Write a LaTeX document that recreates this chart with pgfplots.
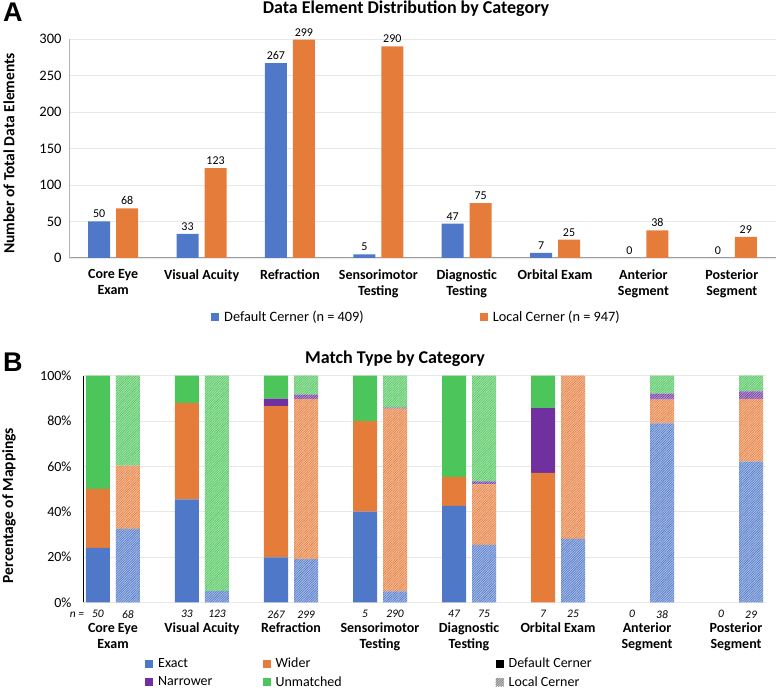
\documentclass[border=0pt]{standalone}
\usepackage{fontspec}
\setmainfont{Carlito}
\newfontfamily\labfont{Liberation Sans}
\usepackage{pgfplots}
\pgfplotsset{compat=1.18}
\usetikzlibrary{patterns.meta}
\definecolor{cblue}{HTML}{4F78C8}
\definecolor{corange}{HTML}{E67C3A}
\definecolor{cpurple}{HTML}{7030A0}
\definecolor{cgreen}{HTML}{4CC65A}
\tikzset{
  hatch/.style={fill=#1!50!white, postaction={pattern={Lines[angle=45,distance=1.7pt,line width=0.55pt]}, pattern color=#1}},
  nlab/.style={font=\itshape\fontsize{11.5}{13}\selectfont, yshift=-12pt, xshift=#1},
}
\begin{document}
\begin{tikzpicture}
\useasboundingbox (0pt,0pt) rectangle (778pt,690pt);
% ---------------- Panel A ----------------
\node[anchor=north west, inner sep=0, font=\labfont\bfseries\fontsize{27}{30}\selectfont] at (3pt,687pt) {A};
\node[anchor=base, font=\bfseries\fontsize{18}{21}\selectfont] at (406pt,676.5pt) {Data Element Distribution by Category};
\node[rotate=90, font=\bfseries\fontsize{15.5}{18}\selectfont] at (9pt,536.5pt) {Number of Total Data Elements};
\begin{axis}[
  at={(69pt,432pt)}, anchor=south west, scale only axis,
  width=707pt, height=219pt,
  ybar=6pt, bar width=22pt,
  xmin=-0.5, xmax=7.5, ymin=0, ymax=300,
  xtick={0,...,7},
  xticklabels={{Core Eye\\Exam},{Visual Acuity},{Refraction},{Sensorimotor\\Testing},{Diagnostic\\Testing},{Orbital Exam},{Anterior\\Segment},{Posterior\\Segment}},
  xticklabel style={font=\bfseries\fontsize{14}{16}\selectfont, align=center, anchor=north, yshift=-8pt},
  ytick={0,50,...,300},
  yticklabel style={font=\fontsize{14.5}{16}\selectfont, xshift=-4pt},
  /pgf/number format/assume math mode=true,
  major tick length=0pt,
  axis lines*=left,
  x axis line style={draw=gray!75, line width=1pt},
  y axis line style={draw=gray!60, line width=0.8pt},
  ymajorgrids, grid style={gray!18, line width=0.6pt},
  nodes near coords,
  every node near coord/.append style={font=\fontsize{12}{14}\selectfont, black},
  legend columns=2, legend cell align=left,
  legend image code/.code={\fill[#1,draw=none] (0pt,-4pt) rectangle (8pt,4pt); \path[draw=none,fill=none] (0pt,0pt) -- (11pt,0pt);},
  legend style={at={(0.4915,-0.2694)}, anchor=center, draw=none, font=\fontsize{14.3}{16}\selectfont,
     /tikz/column 2/.style={column sep=114pt}},
]
\addplot[fill=cblue, draw=none] coordinates {(0,50) (1,33) (2,267) (3,5) (4,47) (5,7) (6,0) (7,0)};
\addlegendentry{Default Cerner (n = 409)}
\addplot[fill=corange, draw=none] coordinates {(0,68) (1,123) (2,299) (3,290) (4,75) (5,25) (6,38) (7,29)};
\addlegendentry{Local Cerner (n = 947)}
\end{axis}
% ---------------- Panel B ----------------
\node[anchor=north west, inner sep=0, font=\labfont\bfseries\fontsize{27}{30}\selectfont] at (3pt,337pt) {B};
\node[anchor=base, font=\bfseries\fontsize{18}{21}\selectfont] at (395pt,326pt) {Match Type by Category};
\node[rotate=90, font=\bfseries\fontsize{15.5}{18}\selectfont] at (9pt,184.5pt) {Percentage of Mappings};
\begin{axis}[
  at={(83pt,87.7pt)}, anchor=south west, scale only axis,
  width=683pt, height=226.6pt,
  ybar stacked, bar width=24pt, bar shift=-15pt,
  xmin=-0.337, xmax=7.337, ymin=0, ymax=100,
  xtick={0,...,7},
  xticklabels={{Core Eye\\Exam},{Visual Acuity},{Refraction},{Sensorimotor\\Testing},{Diagnostic\\Testing},{Orbital Exam},{Anterior\\Segment},{Posterior\\Segment}},
  xticklabel style={font=\bfseries\fontsize{14}{16}\selectfont, align=center, anchor=north, yshift=-17pt},
  ytick={0,20,...,100},
  yticklabel={\pgfmathprintnumber{\tick}\%},
  yticklabel style={font=\fontsize{14}{16}\selectfont, xshift=-8pt},
  /pgf/number format/assume math mode=true,
  major tick length=0pt,
  axis lines*=left,
  x axis line style={draw=gray!18, line width=0.6pt},
  y axis line style={draw=black, line width=0.7pt},
  ymajorgrids, grid style={gray!18, line width=0.6pt},
  legend columns=3, legend cell align=left,
  legend image code/.code={\fill[#1,draw=none] (0pt,-4pt) rectangle (8pt,4pt); \path[draw=none,fill=none] (0pt,0pt) -- (11pt,0pt);},
  legend style={at={(0.4195,-0.312)}, anchor=center, draw=none, font=\fontsize{14}{16}\selectfont,
     /tikz/column 2/.style={column sep=48pt}, /tikz/column 4/.style={column sep=152pt}, /tikz/row sep=3pt},
  clip=false,
]
\addlegendimage{fill=cblue,draw=none}\addlegendentry{Exact}
\addlegendimage{fill=corange,draw=none}\addlegendentry{Wider}
\addlegendimage{fill=black,draw=none}\addlegendentry{Default Cerner}
\addlegendimage{fill=cpurple,draw=none}\addlegendentry{Narrower}
\addlegendimage{fill=cgreen,draw=none}\addlegendentry{Unmatched}
\addlegendimage{hatch=gray,draw=none}\addlegendentry{Local Cerner}
% Default Cerner (percent of mappings)
\addplot[fill=cblue, draw=none] coordinates {(0,24) (1,45.45) (2,19.85) (3,40) (4,42.55) (5,0) (6,0) (7,0)};
\addplot[fill=corange, draw=none] coordinates {(0,26) (1,42.42) (2,66.67) (3,40) (4,12.77) (5,57.14) (6,0) (7,0)};
\addplot[fill=cpurple, draw=none] coordinates {(0,0) (1,0) (2,3.37) (3,0) (4,0) (5,28.57) (6,0) (7,0)};
\addplot[fill=cgreen, draw=none] coordinates {(0,50) (1,12.12) (2,10.11) (3,20) (4,44.68) (5,14.29) (6,0) (7,0)};
% n labels
\node[nlab=-6pt] at (axis cs:-0.337,0) {n =};
\node[nlab=-15pt] at (axis cs:0,0) {50};
\node[nlab=15pt] at (axis cs:0,0) {68};
\node[nlab=-15pt] at (axis cs:1,0) {33};
\node[nlab=15pt] at (axis cs:1,0) {123};
\node[nlab=-15pt] at (axis cs:2,0) {267};
\node[nlab=15pt] at (axis cs:2,0) {299};
\node[nlab=-15pt] at (axis cs:3,0) {5};
\node[nlab=15pt] at (axis cs:3,0) {290};
\node[nlab=-15pt] at (axis cs:4,0) {47};
\node[nlab=15pt] at (axis cs:4,0) {75};
\node[nlab=-15pt] at (axis cs:5,0) {7};
\node[nlab=15pt] at (axis cs:5,0) {25};
\node[nlab=-15pt] at (axis cs:6,0) {0};
\node[nlab=15pt] at (axis cs:6,0) {38};
\node[nlab=-15pt] at (axis cs:7,0) {0};
\node[nlab=15pt] at (axis cs:7,0) {29};
\end{axis}
\begin{axis}[
  at={(83pt,87.7pt)}, anchor=south west, scale only axis,
  width=683pt, height=226.6pt,
  ybar stacked, bar width=24pt, bar shift=15pt,
  xmin=-0.337, xmax=7.337, ymin=0, ymax=100,
  hide axis,
]
% Local Cerner (percent of mappings)
\addplot[hatch=cblue, draw=none] coordinates {(0,32.35) (1,4.88) (2,19.06) (3,4.83) (4,25.33) (5,28) (6,78.95) (7,62.07)};
\addplot[hatch=corange, draw=none] coordinates {(0,27.94) (1,0) (2,70.57) (3,80.69) (4,26.67) (5,72) (6,10.53) (7,27.59)};
\addplot[hatch=cpurple, draw=none] coordinates {(0,0) (1,0) (2,2.01) (3,0.34) (4,1.33) (5,0) (6,2.63) (7,3.45)};
\addplot[hatch=cgreen, draw=none] coordinates {(0,39.71) (1,95.12) (2,8.36) (3,14.14) (4,46.67) (5,0) (6,7.89) (7,6.90)};
\end{axis}
\end{tikzpicture}
\end{document}
